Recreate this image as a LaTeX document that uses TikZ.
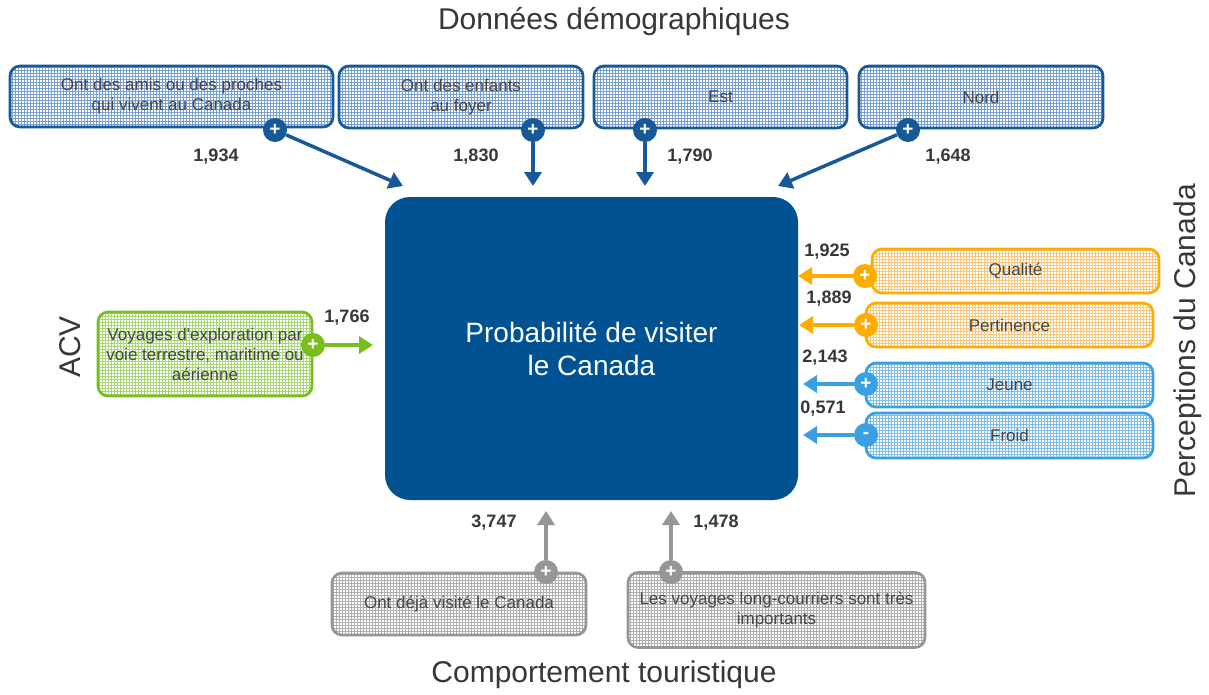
\documentclass[tikz,border=0pt]{standalone}
\usepackage{fontspec}
\setmainfont{Liberation Sans}
\usetikzlibrary{arrows.meta,patterns}

\definecolor{bleufonce}{RGB}{0,82,147}
\definecolor{bleubord}{RGB}{22,88,152}
\definecolor{bleufond}{RGB}{222,232,245}
\definecolor{bleugrille}{RGB}{120,160,210}
\definecolor{orangebord}{RGB}{255,172,0}
\definecolor{orangefond}{RGB}{255,240,212}
\definecolor{orangegrille}{RGB}{250,200,120}
\definecolor{cielbord}{RGB}{58,160,228}
\definecolor{cielfond}{RGB}{225,238,250}
\definecolor{cielgrille}{RGB}{130,190,235}
\definecolor{vertbord}{RGB}{120,190,30}
\definecolor{vertfond}{RGB}{235,245,222}
\definecolor{vertgrille}{RGB}{170,215,120}
\definecolor{grisbord}{RGB}{150,150,150}
\definecolor{grisfond}{RGB}{232,232,232}
\definecolor{grisgrille}{RGB}{175,175,175}
\definecolor{texte}{RGB}{70,70,70}
\definecolor{chiffre}{RGB}{55,55,55}

\begin{document}
\begin{tikzpicture}[x=1pt, y=-1pt,
    boite/.style={draw, rounded corners=10pt, line width=2.7pt, align=center,
      inner sep=0pt, text=texte, font=\fontsize{17}{20}\selectfont},
    bleu/.style={draw=bleubord, fill=bleufond, pattern=grid, pattern color=bleugrille},
    orange/.style={draw=orangebord, fill=orangefond, pattern=grid, pattern color=orangegrille},
    ciel/.style={draw=cielbord, fill=cielfond, pattern=grid, pattern color=cielgrille},
    vert/.style={draw=vertbord, fill=vertfond, pattern=grid, pattern color=vertgrille},
    gris/.style={draw=grisbord, fill=grisfond, pattern=grid, pattern color=grisgrille},
    signe/.style={circle, inner sep=0pt, minimum size=24pt, text=white,
      font=\bfseries\fontsize{19}{19}\selectfont},
    fleche/.style={line width=3.5pt, -{Triangle[length=14pt,width=17pt]}},
    valeur/.style={text=chiffre, font=\bfseries\fontsize{18}{18}\selectfont},
    titre/.style={text=chiffre, font=\fontsize{30}{30}\selectfont}]
    \useasboundingbox (0,0) rectangle (1209,694);

    % titres
    \node[titre] (tdemo) at (614,22) {Données démographiques};
    \node[titre] (tcomp) at (604,675) {Comportement touristique};
    \node[titre, rotate=90] (tperc) at (1188,341) {Perceptions du Canada};
    \node[titre, rotate=90] (tacv) at (70,347) {ACV};

    % boîte centrale
    \node[fill=bleufonce, rounded corners=25pt, minimum width=413pt, minimum height=303pt,
      text=white, align=center, font=\fontsize{28}{33}\selectfont] (centre) at (591.5,348.5)
      {Probabilité de visiter\\le Canada};

    % données démographiques
    \node[boite, bleu, minimum width=323pt, minimum height=61pt] (amis) at (171.5,96.5)
      {Ont des amis ou des proches\\qui vivent au Canada};
    \node[boite, bleu, minimum width=244pt, minimum height=62pt] (enfants) at (461,97)
      {Ont des enfants\\au foyer};
    \node[boite, bleu, minimum width=253pt, minimum height=62pt] (est) at (720.5,97) {Est};
    \node[boite, bleu, minimum width=244pt, minimum height=62pt] (nord) at (981,97) {Nord};

    \node[signe, fill=bleubord] (pamis) at (275,130) {+};
    \node[signe, fill=bleubord] (penfants) at (533,130) {+};
    \node[signe, fill=bleubord] (pest) at (645,130) {+};
    \node[signe, fill=bleubord] (pnord) at (908,130) {+};

    \coordinate (aamis) at (403,186);
    \coordinate (aenfants) at (533,186);
    \coordinate (aest) at (645,186);
    \coordinate (anord) at (778,186);

    \draw[fleche, bleubord] (pamis) -- (aamis);
    \draw[fleche, bleubord] (penfants) -- (aenfants);
    \draw[fleche, bleubord] (pest) -- (aest);
    \draw[fleche, bleubord] (pnord) -- (anord);

    \node[valeur] (vamis) at (216,157) {1,934};
    \node[valeur] (venfants) at (476,157) {1,830};
    \node[valeur] (vest) at (690,157) {1,790};
    \node[valeur] (vnord) at (948,157) {1,648};

    % perceptions du Canada
    \node[boite, orange, minimum width=287pt, minimum height=44pt] (qualite) at (1015.5,271) {Qualité};
    \node[boite, orange, minimum width=287pt, minimum height=44pt] (pertinence) at (1009.5,325) {Pertinence};
    \node[boite, ciel, minimum width=287pt, minimum height=44pt] (jeune) at (1009.5,385) {Jeune};
    \node[boite, ciel, minimum width=287pt, minimum height=45pt] (froid) at (1009.5,435.5) {Froid};

    \node[signe, fill=orangebord] (pqualite) at (865,276) {+};
    \node[signe, fill=orangebord] (ppertinence) at (866,325) {+};
    \node[signe, fill=cielbord] (pjeune) at (866,384) {+};
    \node[signe, fill=cielbord] (pfroid) at (866,435) {-};

    \coordinate (aqualite) at (798,276);
    \coordinate (apertinence) at (799,325);
    \coordinate (ajeune) at (803,384);
    \coordinate (afroid) at (803,435);

    \draw[fleche, orangebord] (pqualite) -- (aqualite);
    \draw[fleche, orangebord] (ppertinence) -- (apertinence);
    \draw[fleche, cielbord] (pjeune) -- (ajeune);
    \draw[fleche, cielbord] (pfroid) -- (afroid);

    \node[valeur] (vqualite) at (827,252) {1,925};
    \node[valeur] (vpertinence) at (829,299) {1,889};
    \node[valeur] (vjeune) at (825,358) {2,143};
    \node[valeur] (vfroid) at (823,409) {0,571};

    % ACV
    \node[boite, vert, minimum width=214pt, minimum height=84pt] (voyages) at (205,354)
      {Voyages d\textquotesingle exploration par\\voie terrestre, maritime ou\\aérienne};
    \node[signe, fill=vertbord] (pvoyages) at (313,345) {+};
    \coordinate (avoyages) at (373,345);
    \draw[fleche, vertbord] (pvoyages) -- (avoyages);
    \node[valeur] (vvoyages) at (347,318) {1,766};

    % comportement touristique
    \node[boite, gris, minimum width=254pt, minimum height=62pt] (visite) at (459,604)
      {Ont déjà visité le Canada};
    \node[boite, gris, minimum width=297pt, minimum height=75pt] (longs) at (776.5,610)
      {Les voyages long-courriers sont très\\importants};

    \node[signe, fill=grisbord] (pvisite) at (546,572) {+};
    \node[signe, fill=grisbord] (plongs) at (671,572) {+};

    \coordinate (avisite) at (546,511);
    \coordinate (alongs) at (671,511);

    \draw[fleche, grisbord] (pvisite) -- (avisite);
    \draw[fleche, grisbord] (plongs) -- (alongs);

    \node[valeur] (vvisite) at (494,523) {3,747};
    \node[valeur] (vlongs) at (716,523) {1,478};
\end{tikzpicture}
\end{document}
